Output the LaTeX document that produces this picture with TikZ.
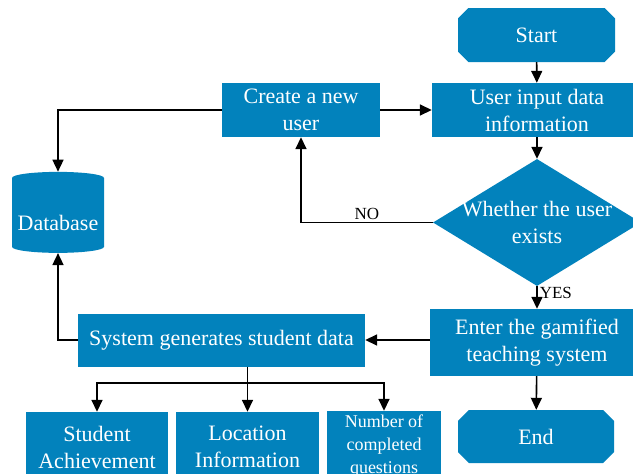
\documentclass[tikz,border=0pt]{standalone}
\usepackage{fontspec}
\setmainfont{Liberation Serif}
\usetikzlibrary{arrows.meta,shapes.geometric,shapes.misc}
\definecolor{flowblue}{RGB}{2,130,188}
\tikzset{
  block/.style = {
    rectangle, fill=flowblue, text=white, align=center,
    inner sep=0pt, font=\fontsize{22}{27}\selectfont
  },
  terminal/.style = {
    block, chamfered rectangle, chamfered rectangle xsep=15pt
  },
  small/.style = {font=\fontsize{18}{23}\selectfont},
  flow/.style = {line width=1.6pt, -{Triangle[length=12pt,width=11pt]}},
  tag/.style = {font=\fontsize{17}{20}\selectfont, inner sep=2pt}
}

\begin{document}
\begin{tikzpicture}[x=1pt,y=-1pt]
  \clip (0,0) rectangle (633,474);
  % right column
  \node[terminal, minimum width=157pt, minimum height=54pt] (start) at (536.5,35) {Start};
  \node[block, minimum width=210pt, minimum height=54pt] (input) at (537,110) {User input data\\information};
  \node[block, diamond, minimum width=208pt, minimum height=127pt,
        label={[block, fill=none]center:Whether the user\\exists}] (ask) at (537,222.5) {};
  \node[block, minimum width=214pt, minimum height=67pt] (enter) at (537,342.5) {Enter the gamified\\teaching system};
  \node[terminal, minimum width=156pt, minimum height=53pt] (end) at (536,436.5) {End};
  % left part
  \node[block, minimum width=158pt, minimum height=54pt] (create) at (301,110) {Create a new\\user};
  \node[block, cylinder, shape border rotate=90, aspect=0.15,
        minimum width=92pt, minimum height=81pt] (db) at (58,215.5) {\raisebox{-7pt}[\height][\depth]{Database}};
  \node[block, minimum width=287pt, minimum height=53pt] (sys) at (221.5,340) {System generates student data};
  % outputs
  \node[block, minimum width=142pt, minimum height=70pt] (ach) at (97,447) {Student\\Achievement};
  \node[block, minimum width=143pt, minimum height=70pt] (loc) at (247.5,447) {Location\\Information};
  \node[block, small, minimum width=114pt, minimum height=70pt] (num) at (384,446) {Number of\\completed\\questions};
  \coordinate (split) at (247.5,383);
  % connectors
  \draw[flow] (start) -- (input);
  \draw[flow] (input) -- (ask);
  \draw[flow] (ask.west) -| node[tag, pos=0.25, above] {NO} (create.south);
  \draw[flow] (create) -- (input);
  \draw[flow] (create.west) -| (db);
  \draw[flow] (ask.south) -- node[tag, pos=0.3, right] {YES} (enter);
  \draw[flow] (enter.west |- sys.east) -- (sys.east);
  \draw[flow] (enter) -- (end);
  \draw[flow] (sys.west) -| (db);
  \draw[line width=1.6pt] (split |- sys.south) -- (split);
  \draw[flow] (split) -| (ach);
  \draw[flow] (split) -- (loc);
  \draw[flow] (split) -| (num);
\end{tikzpicture}
\end{document}
